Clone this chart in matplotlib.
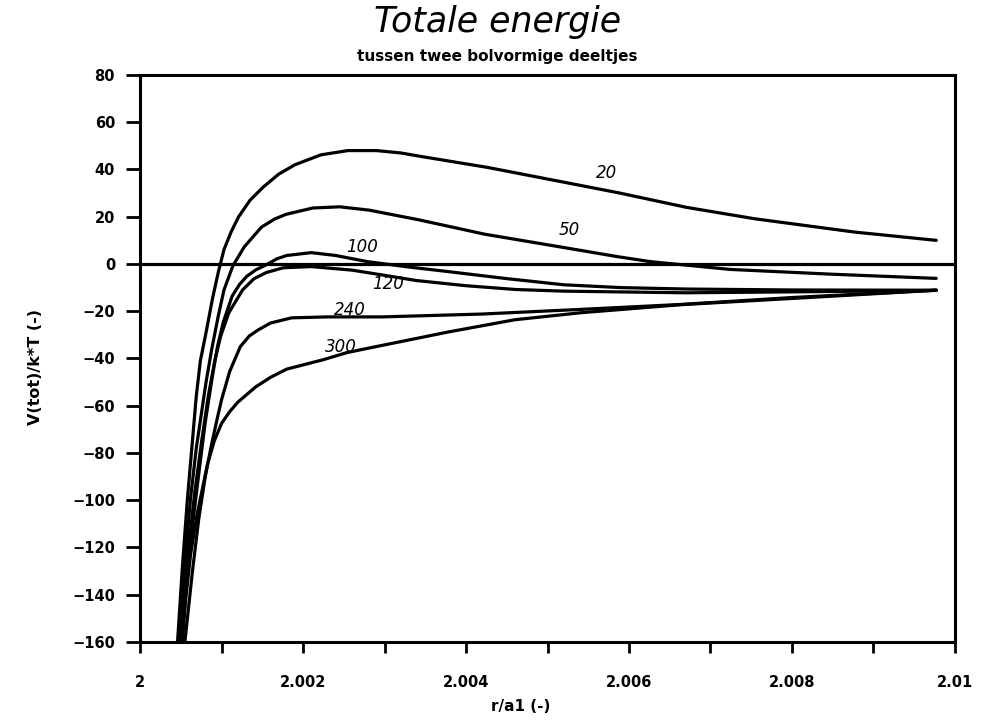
import matplotlib
matplotlib.use("Agg")
import matplotlib.pyplot as plt
from matplotlib.ticker import MultipleLocator, FuncFormatter

# curves (r/a1, V/kT), one per electrolyte label
x_20 = [2.00046, 2.00052, 2.00058, 2.00064, 2.00069, 2.00074, 2.00081, 2.00089, 2.00096,
        2.00103, 2.00112, 2.00121, 2.00135, 2.00151, 2.0017, 2.0019, 2.00222, 2.00255,
        2.0029, 2.0032, 2.00345, 2.00426, 2.00507, 2.00589, 2.0067, 2.00755, 2.00877,
        2.00977]
y_20 = [-160, -128, -100, -76, -56, -41, -29, -14.5, -3.5, 6.1, 13.8, 20, 27, 32.5, 38,
        42, 46.2, 48, 48, 47, 45.5, 40.9, 35.5, 30, 24, 19.1, 13.5, 10]

x_50 = [2.00047, 2.00054, 2.00062, 2.00069, 2.00075, 2.00081, 2.00088, 2.00096, 2.00103,
        2.00114, 2.00128, 2.00149, 2.00165, 2.00179, 2.00212, 2.00245, 2.00281, 2.00342,
        2.00423, 2.00504, 2.00586, 2.00626, 2.00724, 2.00847, 2.00977]
y_50 = [-160, -131, -99, -78, -64, -50, -36, -22, -11, -0.7, 7.3, 15.6, 19, 21, 23.7,
        24.2, 22.8, 18.7, 12.6, 7.9, 3.1, 1.0, -2.3, -4.3, -6.1]

x_100 = [2.0005, 2.0006, 2.00072, 2.0008, 2.00089, 2.00095, 2.00102, 2.00113, 2.00122,
         2.00131, 2.00142, 2.00154, 2.00168, 2.0018, 2.0021, 2.0024, 2.00279, 2.0033,
         2.0038, 2.0045, 2.0052, 2.0059, 2.0067, 2.008, 2.00977]
y_100 = [-160, -123, -89, -67, -47, -35, -24.8, -13.6, -8.7, -5.2, -2.5, -0.5, 2.2, 3.6,
         4.8, 3.6, 1.0, -1.3, -3.3, -6.2, -8.8, -10, -10.6, -11.0, -11.1]

x_120 = [2.0005, 2.00058, 2.00067, 2.00076, 2.00084, 2.00092, 2.00099, 2.00109, 2.00126,
         2.0014, 2.00155, 2.00176, 2.0021, 2.0026, 2.003, 2.00339, 2.004, 2.00461, 2.0052,
         2.0067, 2.008, 2.00977]
y_120 = [-160, -125, -97, -74, -55.4, -40.5, -30.5, -20.6, -10.9, -6.2, -3.6, -1.6, -1.1,
         -2.6, -4.8, -7.0, -9.2, -10.8, -11.5, -12.2, -11.8, -11.2]

x_240 = [2.00055, 2.00064, 2.00072, 2.0008, 2.00088, 2.00095, 2.001, 2.0011, 2.00123,
         2.00134, 2.00145, 2.0016, 2.00186, 2.0023, 2.00297, 2.00419, 2.00542, 2.00665,
         2.008, 2.00977]
y_240 = [-160, -131, -108, -90, -76, -65, -57.5, -45.5, -35, -30.5, -27.9, -25, -22.8,
         -22.4, -22.4, -21.2, -19.2, -17.1, -14.2, -11.1]

x_300 = [2.00052, 2.00056, 2.00062, 2.0007, 2.00076, 2.00083, 2.00091, 2.001, 2.0011,
         2.0012, 2.00142, 2.0016, 2.0018, 2.00225, 2.00254, 2.00295, 2.00378, 2.0046,
         2.00542, 2.00665, 2.00805, 2.00977]
y_300 = [-160, -142, -123, -106, -96, -84.5, -75, -67.5, -62.5, -58.5, -52, -48, -44.5,
         -40.5, -37.5, -34.6, -28.8, -23.6, -20.6, -17.2, -14.5, -11.1]

curve_labels = ["20", "50", "100", "120", "240", "300"]
label_x = [2.00573, 2.00527, 2.00273, 2.00304, 2.00258, 2.00246]
label_y = [38.7, 14.4, 7.2, -8.6, -19.4, -35.0]

fig = plt.figure(figsize=(9.89, 7.21), dpi=100)
ax = fig.add_axes([0.1416, 0.1096, 0.824, 0.7864])

lw = 2.3
for xs, ys in [(x_20, y_20), (x_50, y_50), (x_100, y_100),
               (x_120, y_120), (x_240, y_240), (x_300, y_300)]:
    ax.plot(xs, ys, color="black", lw=lw, solid_joinstyle="round", solid_capstyle="round")
ax.axhline(0, color="black", lw=lw)

for t, lx, ly in zip(curve_labels, label_x, label_y):
    ax.text(lx, ly, t, fontsize=12, ha="center", va="center", style="italic")

ax.set_xlim(2.0, 2.01)
ax.set_ylim(-160, 80)
ax.xaxis.set_major_locator(MultipleLocator(0.002))
ax.xaxis.set_minor_locator(MultipleLocator(0.001))
ax.xaxis.set_major_formatter(FuncFormatter(lambda v, p: "%g" % round(v, 4)))
ax.yaxis.set_major_locator(MultipleLocator(20))

for s in ax.spines.values():
    s.set_linewidth(2.2)
ax.tick_params(axis="both", which="both", direction="out", width=2, labelsize=10.5)
ax.tick_params(axis="x", which="major", length=8, pad=16)
ax.tick_params(axis="x", which="minor", length=8)
ax.tick_params(axis="y", length=10, pad=8)
for lab in ax.get_xticklabels() + ax.get_yticklabels():
    lab.set_fontweight("bold")

fig.text(0.503, 0.970, "Totale energie", fontsize=25, style="italic",
         ha="center", va="center")
fig.text(0.503, 0.921, "tussen twee bolvormige deeltjes", fontsize=11,
         fontweight="bold", ha="center", va="center")
fig.text(0.036, 0.491, "V(tot)/k*T (-)", rotation=90, fontsize=11.5,
         fontweight="bold", ha="center", va="center")
fig.text(0.526, 0.020, "r/a1 (-)", fontsize=11, fontweight="bold",
         ha="center", va="center")

fig.savefig("out.png", dpi=100)
